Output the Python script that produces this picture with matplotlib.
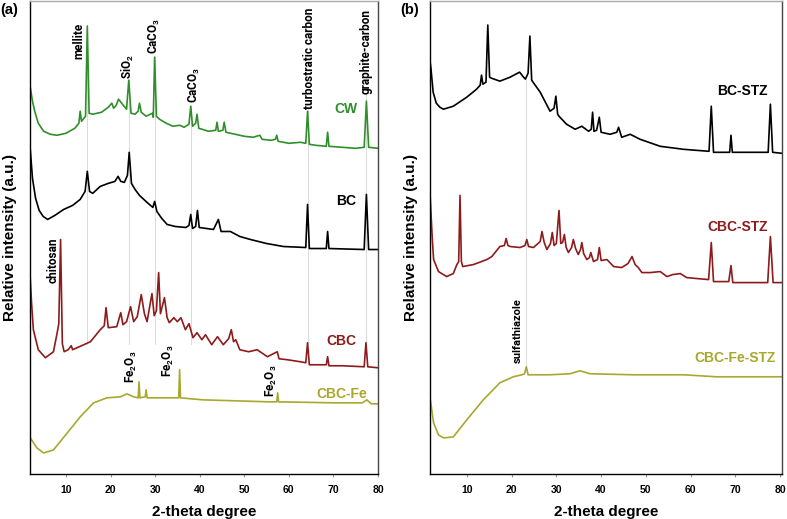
import matplotlib
matplotlib.use("Agg")
import matplotlib.pyplot as plt

plt.rcParams['font.family'] = ['Liberation Sans', 'DejaVu Sans']
plt.rcParams['font.weight'] = 'bold'
plt.rcParams['axes.labelweight'] = 'bold'
plt.rcParams['mathtext.fontset'] = 'custom'
plt.rcParams['mathtext.rm'] = 'Roboto'
plt.rcParams['mathtext.bf'] = 'Roboto:bold'

# ---- panel (a) patterns: (2-theta, intensity a.u.) ----
cw = [(2.0, 386), (2.5, 372), (3.0, 362), (3.8, 350), (5.0, 342), (6.5, 339), (8.0, 338),
      (10.0, 340), (12.0, 345), (12.9, 350), (13.2, 362), (13.5, 352), (14.4, 357), (14.8, 447),
      (15.2, 360), (16.0, 359), (18.0, 361), (19.5, 366), (20.3, 370), (20.7, 365), (21.3, 368),
      (21.8, 374), (22.5, 370), (23.6, 364), (24.1, 393), (24.6, 360), (25.5, 359), (26.2, 362),
      (26.5, 370), (26.9, 361), (28.0, 357), (29.4, 360), (29.6, 356), (29.9, 416), (30.3, 357),
      (31.0, 354), (32.5, 350), (34.0, 347), (35.5, 348), (36.5, 346), (37.6, 349), (38.0, 367),
      (38.4, 347), (39.1, 350), (39.4, 359), (39.8, 345), (42.0, 342), (43.6, 343), (43.9, 351),
      (44.2, 342), (45.2, 343), (45.5, 351), (45.9, 341), (48.0, 339), (50.0, 337), (52.0, 336),
      (53.5, 338), (54.0, 334), (56.0, 333), (57.0, 334), (57.3, 338), (57.6, 332), (60.0, 330),
      (62.6, 331), (63.8, 330), (64.2, 362), (64.6, 329), (66.0, 328), (68.4, 327), (68.7, 341),
      (69.0, 327), (72.0, 326), (75.0, 325), (76.9, 326), (77.4, 372), (77.9, 326), (80.0, 325)]

bc = [(2.0, 324), (2.5, 295), (3.2, 275), (4.0, 263), (4.9, 257), (5.9, 254), (7.5, 258),
      (9.5, 264), (11.5, 268), (13.2, 274), (14.3, 282), (14.8, 302), (15.3, 282), (16.0, 280),
      (17.7, 287), (19.5, 290), (21.0, 292), (21.7, 297), (22.3, 292), (23.1, 291), (23.8, 298),
      (24.2, 321), (24.7, 290), (25.5, 284), (26.5, 278), (28.2, 271), (29.5, 266), (29.9, 272),
      (30.4, 262), (31.5, 255), (32.7, 249), (34.5, 247), (36.9, 246), (37.6, 248), (38.0, 259),
      (38.4, 245), (39.1, 247), (39.5, 263), (39.9, 246), (41.5, 245), (43.1, 244), (44.2, 254),
      (44.8, 242), (46.9, 242), (49.0, 237), (51.4, 234), (55.0, 230), (58.8, 227), (63.8, 226),
      (64.2, 269), (64.6, 225), (68.4, 225), (68.7, 242), (69.0, 225), (76.9, 224), (77.4, 279),
      (77.9, 224), (80.0, 224)]

cbc = [(2.0, 195), (2.3, 170), (2.7, 144), (3.8, 124), (5.4, 116), (7.2, 122), (8.0, 140),
       (8.4, 150), (8.8, 234), (9.2, 130), (9.6, 122), (10.5, 124), (11.2, 128), (11.5, 124),
       (13.0, 127), (15.5, 132), (17.7, 144), (18.6, 148), (19.0, 166), (19.5, 146), (21.4, 147),
       (22.3, 161), (22.8, 149), (23.6, 152), (24.5, 167), (25.2, 152), (26.0, 157), (26.9, 179),
       (27.6, 160), (28.2, 152), (29.3, 180), (29.8, 158), (30.3, 163), (30.8, 201), (31.2, 160),
       (32.1, 176), (32.7, 156), (33.2, 151), (34.2, 156), (35.0, 152), (35.8, 156), (36.8, 144),
       (37.6, 150), (38.5, 136), (39.4, 141), (40.5, 134), (41.3, 139), (42.7, 129), (44.0, 137),
       (45.3, 129), (46.5, 135), (47.1, 144), (47.6, 132), (48.1, 134), (49.0, 124), (51.0, 122),
       (52.9, 124), (55.2, 117), (57.4, 122), (57.8, 115), (59.7, 114), (62.6, 112), (63.8, 111),
       (64.2, 131), (64.6, 109), (68.4, 109), (68.7, 117), (69.0, 108), (72.0, 108), (76.9, 107),
       (77.3, 131), (77.7, 107), (80.0, 106)]

cbc_fe = [(2.0, 36), (3.5, 26), (5.0, 21), (7.2, 24), (10.3, 41), (13.2, 57), (16.2, 71),
          (19.2, 76), (22.2, 77), (23.7, 80), (25.2, 77), (26.2, 76), (26.4, 92), (26.6, 76),
          (27.8, 77), (28.0, 84), (28.2, 76), (33.4, 76), (35.3, 76), (35.5, 104), (35.7, 76),
          (40.7, 74), (48.2, 73), (55.7, 72), (57.3, 72), (57.5, 81), (57.7, 72), (70.4, 71),
          (76.5, 71), (77.5, 74), (78.5, 70), (80.0, 70)]

# ---- panel (b) patterns ----
bc_stz = [(1.8, 412), (2.0, 405), (2.5, 381), (3.2, 370), (4.0, 366), (4.8, 364), (7.0, 367),
          (10.0, 376), (12.2, 384), (13.0, 388), (13.3, 398), (13.6, 389), (14.3, 391), (14.7, 448),
          (15.1, 396), (15.5, 395), (17.4, 392), (19.7, 396), (21.8, 401), (22.5, 397), (23.1, 394),
          (23.7, 400), (24.1, 437), (24.5, 393), (24.8, 391), (26.4, 381), (28.6, 362), (29.5, 365),
          (29.9, 377), (30.3, 359), (30.6, 357), (32.3, 349), (34.2, 344), (35.7, 347), (37.2, 342),
          (37.8, 344), (38.1, 361), (38.4, 342), (39.0, 343), (39.6, 356), (40.0, 341), (42.0, 339),
          (43.5, 341), (43.9, 346), (44.6, 336), (46.5, 339), (48.7, 334), (53.2, 327), (58.4, 324),
          (64.1, 322), (64.6, 367), (65.1, 321), (68.7, 321), (69.0, 338), (69.3, 321), (77.3, 321),
          (77.8, 369), (78.3, 321), (80.4, 320)]

cbc_stz = [(1.8, 280), (2.0, 262), (2.3, 235), (2.6, 214), (3.7, 202), (5.5, 197), (7.0, 200),
           (7.8, 209), (8.2, 212), (8.5, 278), (8.8, 212), (9.1, 207), (11.5, 209), (14.5, 214),
           (15.6, 217), (17.4, 227), (18.4, 228), (18.8, 235), (19.2, 228), (19.7, 227), (21.9, 226),
           (23.0, 228), (23.4, 234), (23.8, 227), (24.9, 226), (26.4, 232), (26.8, 242), (27.3, 231),
           (27.9, 224), (28.7, 230), (29.1, 241), (29.5, 228), (30.0, 230), (30.6, 263), (31.0, 230),
           (31.4, 231), (31.8, 239), (32.2, 226), (32.7, 221), (33.4, 226), (33.8, 234), (34.3, 225),
           (34.9, 219), (35.4, 224), (35.7, 231), (36.1, 220), (36.8, 214), (37.4, 216), (37.7, 221),
           (38.3, 212), (39.2, 214), (39.6, 226), (40.0, 213), (41.3, 214), (42.8, 207), (44.6, 206),
           (46.0, 210), (46.9, 217), (47.6, 209), (48.3, 206), (49.1, 201), (51.0, 201), (53.2, 202),
           (54.7, 197), (56.0, 199), (57.7, 200), (59.1, 196), (61.5, 195), (64.0, 194), (64.6, 231),
           (65.1, 192), (68.5, 192), (69.0, 208), (69.4, 191), (73.0, 191), (77.2, 191), (77.8, 237),
           (78.4, 191), (80.4, 191)]

cbc_fe_stz = [(1.8, 76), (2.0, 70), (2.6, 51), (3.7, 39), (4.8, 36), (7.0, 37), (10.0, 54),
              (13.7, 74), (17.4, 91), (20.4, 97), (22.3, 99), (22.9, 100), (23.3, 107), (23.7, 99),
              (28.6, 99), (33.0, 100), (35.3, 103), (37.6, 100), (47.2, 99), (58.4, 99), (65.8, 97),
              (80.4, 97)]

# peak assignments
guides_a = [14.8, 24.2, 29.9, 38.0, 64.2, 77.4]
guides_a_top = [447, 393, 416, 367, 364, 379]
xticks = [10, 20, 30, 40, 50, 60, 70, 80]

green = '#2f8f2a'
red = '#8e1b1b'
olive = '#a8a830'

fig = plt.figure(figsize=(7.87, 5.19), dpi=100)
ax1 = fig.add_axes([0.0381, 0.0867, 0.4422, 0.9114])
ax2 = fig.add_axes([0.5464, 0.0867, 0.4473, 0.9114])


def unzip(pts):
    return [p[0] for p in pts], [p[1] for p in pts]


def style(ax, xlim):
    ax.set_xlim(xlim)
    ax.set_ylim(0, 472)
    ax.set_xticks(xticks, labels=[str(t) for t in xticks], fontweight='bold', fontsize=7.5)
    ax.set_yticks([])
    ax.tick_params(axis='x', length=2, color='#999999', pad=6)
    ax.spines['top'].set_color('#aaaaaa')
    ax.spines['right'].set_color('#444444')
    for s in ax.spines.values():
        s.set_linewidth(1.0)
    ax.set_xlabel('2-theta degree', fontsize=11, fontweight='bold', labelpad=7)
    ax.set_ylabel('Relative intensity (a.u.)', fontsize=11, fontweight='bold', labelpad=9)


ann = dict(family=['Roboto', 'DejaVu Sans'], weight='bold', rotation=90,
           ha='center', va='bottom', fontsize=8.5)
lab = dict(fontsize=10, fontweight='bold', ha='center', va='center')

# panel a
for x, top in zip(guides_a, guides_a_top):
    ax1.plot([x, x], [130, top], color='#d4d4d4', lw=0.6, zorder=1)
for pts, c in [(cw, green), (bc, 'black'), (cbc, red), (cbc_fe, olive)]:
    xs, ys = unzip(pts)
    ax1.plot(xs, ys, color=c, lw=1.2, zorder=2)
style(ax1, (1.94, 79.9))

ax1.text(13.0, 414, 'mellite', **ann)
ax1.text(24.0, 394, r'SiO$_\mathbf{2}$', **ann)
ax1.text(29.9, 419, r'CaCO$_\mathbf{3}$', **ann)
ax1.text(38.9, 370, r'CaCO$_\mathbf{3}$', **ann)
ax1.text(64.6, 364, 'turbostratic carbon', **ann)
ax1.text(77.4, 379, 'graphite-carbon', **ann)
ax1.text(7.1, 191, 'chitosan', **ann)
ax1.text(24.7, 91, r'Fe$_\mathbf{2}$O$_\mathbf{3}$', **ann)
ax1.text(33.1, 97, r'Fe$_\mathbf{2}$O$_\mathbf{3}$', **ann)
ax1.text(56.0, 77, r'Fe$_\mathbf{2}$O$_\mathbf{3}$', **ann)

ax1.text(72.9, 364, 'CW', color=green, **lab)
ax1.text(72.9, 272, 'BC', color='black', **lab)
ax1.text(71.8, 133, 'CBC', color=red, **lab)
ax1.text(71.8, 80, 'CBC-Fe', color=olive, **lab)

# panel b
ax2.plot([23.3, 23.3], [107, 393], color='#d4d4d4', lw=0.6, zorder=1)
for pts, c in [(bc_stz, 'black'), (cbc_stz, red), (cbc_fe_stz, olive)]:
    xs, ys = unzip(pts)
    ax2.plot(xs, ys, color=c, lw=1.2, zorder=2)
style(ax2, (1.8, 80.4))

ax2.text(21.5, 111, 'sulfathiazole', **dict(ann, fontsize=8))
ax2.text(71.5, 382, 'BC-STZ', color='black', **lab)
ax2.text(70.4, 246, 'CBC-STZ', color=red, **lab)
ax2.text(70.0, 116, 'CBC-Fe-STZ', color=olive, **lab)

fig.text(0.012, 0.981, '(a)', fontsize=10.5, fontweight='bold', ha='center', va='center')
fig.text(0.521, 0.981, '(b)', fontsize=10.5, fontweight='bold', ha='center', va='center')

fig.savefig('out.png', dpi=100)
